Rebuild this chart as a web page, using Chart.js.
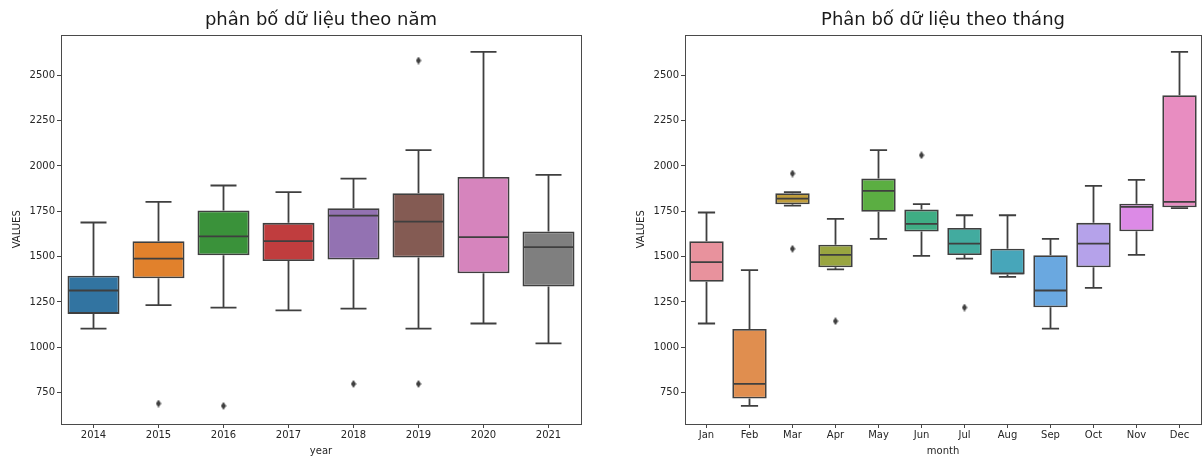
<!DOCTYPE html>
<html>
<head>
<meta charset="utf-8">
<script src="https://cdn.jsdelivr.net/npm/chart.js@4.4.1/dist/chart.umd.min.js"></script>
<style>
  html, body { margin: 0; padding: 0; background: #ffffff; overflow: hidden; }
  body { width: 1202px; height: 458px; position: relative; }
  .panel { position: absolute; top: 0; height: 458px; }
  #yearPanel { left: 0; width: 600px; }
  #monthPanel { left: 624px; width: 582px; }
</style>
</head>
<body>
<div class="panel" id="yearPanel"><canvas id="yearChart" width="600" height="458"></canvas></div>
<div class="panel" id="monthPanel"><canvas id="monthChart" width="582" height="458"></canvas></div>
<script>
// ---- yearly distribution ----
const yearLabels  = ['2014', '2015', '2016', '2017', '2018', '2019', '2020', '2021'];
const yearLow     = [1103, 1232, 1219, 1204, 1213, 1103, 1131, 1022];
const yearQ1      = [1184, 1381, 1507, 1476, 1484, 1495, 1408, 1335];
const yearMedian  = [1313, 1489, 1611, 1585, 1726, 1693, 1607, 1552];
const yearQ3      = [1394, 1585, 1754, 1686, 1767, 1849, 1939, 1638];
const yearHigh    = [1688, 1802, 1892, 1855, 1930, 2087, 2629, 1951];
const yearOutliers = [[], [690], [677], [], [798], [2581, 798], [], []];
const yearColors  = ['#3274a1', '#e1812c', '#3a923a', '#c03d3e', '#9372b2', '#845b53', '#d684bd', '#7f7f7f'];

// ---- monthly distribution ----
const monthLabels  = ['Jan', 'Feb', 'Mar', 'Apr', 'May', 'Jun', 'Jul', 'Aug', 'Sep', 'Oct', 'Nov', 'Dec'];
const monthLow     = [1131, 677, 1781, 1429, 1598, 1504, 1489, 1388, 1103, 1327, 1509, 1767];
const monthQ1      = [1361, 717, 1789, 1441, 1747, 1638, 1509, 1401, 1221, 1441, 1640, 1772];
const monthMedian  = [1469, 798, 1820, 1509, 1862, 1680, 1572, 1407, 1313, 1572, 1774, 1802];
const monthQ3      = [1585, 1101, 1849, 1565, 1930, 1759, 1658, 1543, 1508, 1686, 1792, 2390];
const monthHigh    = [1743, 1425, 1855, 1708, 2087, 1789, 1728, 1728, 1598, 1890, 1923, 2629];
const monthOutliers = [[], [], [1958, 1543], [1144], [], [2059], [1219], [], [], [], [], []];
const monthColors  = ['#e8929d', '#e08e4f', '#c09d3c', '#99a540', '#5bae42', '#3fad84', '#42ab9f', '#47a6ba',
                      '#6aa8e0', '#b5a2ea', '#dc8ae6', '#e88dc1'];

// ---- shared axis settings ----
const valueTicks = [750, 1000, 1250, 1500, 1750, 2000, 2250, 2500];
const valueMin = 577;
const valueMax = 2724;

const LINE = '#3f3f3f';
const FONT = 'DejaVu Sans';

// thin diamond marker for outliers
function thinDiamond() {
  const c = document.createElement('canvas');
  c.width = 6; c.height = 8;
  const g = c.getContext('2d');
  g.fillStyle = LINE;
  g.beginPath();
  g.moveTo(3, 0); g.lineTo(5.6, 4); g.lineTo(3, 8); g.lineTo(0.4, 4);
  g.closePath();
  g.fill();
  return c;
}
const diamond = thinDiamond();

// whiskers, caps, medians and the axes frame
const boxParts = {
  id: 'boxParts',
  beforeDatasetsDraw(chart, args, opts) {
    const { ctx, scales: { x, y } } = chart;
    const step = x.width / opts.labels.length;
    const capHalf = step * 0.2;
    ctx.save();
    ctx.strokeStyle = LINE;
    ctx.lineWidth = 1.8;
    opts.labels.forEach((lab, i) => {
      const cx = x.getPixelForValue(i);
      const yLow = y.getPixelForValue(opts.low[i]);
      const yQ1 = y.getPixelForValue(opts.q1[i]);
      const yQ3 = y.getPixelForValue(opts.q3[i]);
      const yHigh = y.getPixelForValue(opts.high[i]);
      ctx.beginPath();
      ctx.moveTo(cx, yQ3); ctx.lineTo(cx, yHigh);
      ctx.moveTo(cx - capHalf, yHigh); ctx.lineTo(cx + capHalf, yHigh);
      ctx.moveTo(cx, yQ1); ctx.lineTo(cx, yLow);
      ctx.moveTo(cx - capHalf, yLow); ctx.lineTo(cx + capHalf, yLow);
      ctx.stroke();
    });
    ctx.restore();
  },
  afterDatasetsDraw(chart, args, opts) {
    const { ctx, chartArea: a, scales: { x, y } } = chart;
    const step = x.width / opts.labels.length;
    const half = step * 0.4;
    ctx.save();
    ctx.strokeStyle = LINE;
    ctx.lineWidth = 1.8;
    opts.labels.forEach((lab, i) => {
      const cx = x.getPixelForValue(i);
      const ym = y.getPixelForValue(opts.median[i]);
      ctx.beginPath();
      ctx.moveTo(cx - half + 1, ym); ctx.lineTo(cx + half - 1, ym);
      ctx.stroke();
    });
    ctx.strokeStyle = '#4a4a4a';
    ctx.lineWidth = 1;
    ctx.strokeRect(Math.round(a.left) + 0.5, Math.round(a.top) + 0.5,
                   Math.round(a.right - a.left), Math.round(a.bottom - a.top));
    ctx.restore();
  }
};

function makeBoxChart(id, labels, low, q1, median, q3, high, outliers, colors, titleText, xTitle, padRight) {
  const boxes = labels.map((l, i) => [q1[i], q3[i]]);
  const fliers = [];
  outliers.forEach((list, i) => list.forEach(v => fliers.push({ x: labels[i], y: v })));

  return new Chart(document.getElementById(id), {
    type: 'bar',
    data: {
      labels: labels,
      datasets: [
        {
          data: boxes,
          backgroundColor: colors,
          borderColor: LINE,
          borderWidth: 1.8,
          borderSkipped: false,
          categoryPercentage: 0.8,
          barPercentage: 1.0,
          order: 2
        },
        {
          type: 'line',
          data: fliers,
          showLine: false,
          pointStyle: diamond,
          pointRadius: 4,
          order: 1
        }
      ]
    },
    options: {
      responsive: false,
      animation: false,
      layout: { padding: { top: 0, right: padRight, bottom: 0, left: 0 } },
      plugins: {
        legend: { display: false },
        tooltip: { enabled: false },
        title: {
          display: true,
          text: titleText,
          fullSize: false,
          color: '#1a1a1a',
          font: { family: FONT, size: 18, weight: 'normal' },
          padding: { top: 10, bottom: 3 }
        },
        boxParts: { labels, low, q1, median, q3, high }
      },
      scales: {
        x: {
          type: 'category',
          offset: true,
          grid: { display: true, drawOnChartArea: false, drawTicks: true, tickLength: 4, color: '#444444', offset: false },
          border: { display: false },
          ticks: { color: '#262626', font: { family: FONT, size: 10 }, padding: 1, maxRotation: 0, autoSkip: false },
          title: { display: true, text: xTitle, color: '#262626', font: { family: FONT, size: 10 }, padding: { top: 0, bottom: 1 } },
          afterFit(scale) { scale.height = 34; }
        },
        y: {
          type: 'linear',
          min: valueMin,
          max: valueMax,
          grid: { display: true, drawOnChartArea: false, drawTicks: true, tickLength: 4, color: '#444444' },
          border: { display: false },
          ticks: { color: '#262626', font: { family: FONT, size: 10 }, padding: 2, callback: v => String(v) },
          title: { display: true, text: 'VALUES', color: '#262626', font: { family: FONT, size: 10 }, padding: { top: 11, bottom: 0 } },
          afterBuildTicks(scale) { scale.ticks = valueTicks.map(v => ({ value: v })); },
          afterFit(scale) { scale.width = 61; }
        }
      }
    },
    plugins: [boxParts]
  });
}

makeBoxChart('yearChart', yearLabels, yearLow, yearQ1, yearMedian, yearQ3, yearHigh, yearOutliers,
             yearColors, 'phân bố dữ liệu theo năm', 'year', 19);
makeBoxChart('monthChart', monthLabels, monthLow, monthQ1, monthMedian, monthQ3, monthHigh, monthOutliers,
             monthColors, 'Phân bố dữ liệu theo tháng', 'month', 2);
</script>
</body>
</html>
